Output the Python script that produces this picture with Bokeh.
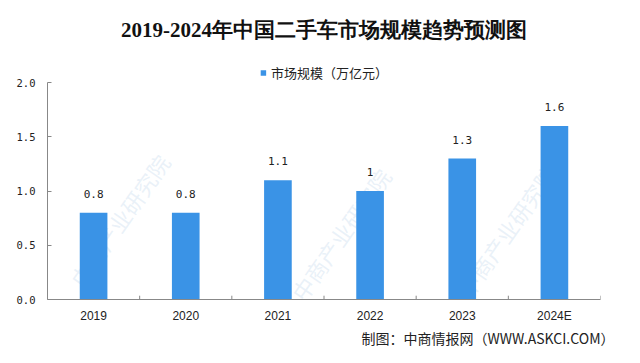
import math
from bokeh.plotting import figure
from bokeh.models import (ColumnDataSource, FixedTicker, PrintfTickFormatter, FactorRange,
                          Range1d, Title, Legend, LegendItem)
from bokeh.embed import file_html
from bokeh.resources import INLINE
from bokeh.core.properties import value

years = ["2019", "2020", "2021", "2022", "2023", "2024E"]
market = [0.8, 0.8, 1.1, 1.0, 1.3, 1.6]
labels = ["0.8", "0.8", "1.1", "1", "1.3", "1.6"]
y_ticks = [0.0, 0.5, 1.0, 1.5, 2.0]
title_text = "2019-2024年中国二手车市场规模趋势预测图"
legend_text = "市场规模（万亿元）"
footer_text = "制图：中商情报网（WWW.ASKCI.COM）"
watermark_text = "中商产业研究院"

BAR = "#3A93E6"
W, H = 624, 347
src = ColumnDataSource(dict(x=years, top=market, lab=labels))

p = figure(width=W, height=H, x_range=FactorRange(*years, range_padding=0),
           y_range=Range1d(0, 2.279), output_backend="svg", toolbar_location=None,
           title=None, min_border_left=47, min_border_right=24,
           min_border_top=52, min_border_bottom=42)
p.outline_line_color = None
p.grid.grid_line_color = None
p.background_fill_color = "white"
p.border_fill_color = "white"

# faint watermark
wm = ColumnDataSource(dict(x=[("2019", -0.2), ("2021", 0.2), ("2023", 0.0)],
                           y=[0.15, 0.02, 0.05]))
p.text(x="x", y="y", text=value(watermark_text), source=wm, angle=math.radians(55),
       text_font_size="22px", text_color="#c9dcee", text_alpha=0.4,
       text_font=value("Noto Sans CJK SC"), text_baseline="middle")

bars = p.vbar(x="x", top="top", width=0.3, source=src, fill_color=BAR, line_color=None)
p.text(x="x", y="top", text="lab", source=src, y_offset=-15,
       text_align="center", text_baseline="bottom", text_font_size="11px",
       text_color="#222222", text_font=value("DejaVu Sans Mono"))

# small separators between categories on the x axis
sep_x = [(y, -0.5) for y in years] + [(years[-1], 0.5)]
p.segment(x0=sep_x, y0=[0] * len(sep_x), x1=sep_x, y1=[0.035] * len(sep_x),
          line_color="#888888", line_width=1)

for ax in (p.xaxis[0], p.yaxis[0]):
    ax.axis_line_color = "#888888"
    ax.minor_tick_line_color = None
    ax.major_label_text_color = "#222222"

p.yaxis.ticker = FixedTicker(ticks=y_ticks)
p.yaxis.bounds = (0, 2.0)
p.yaxis.formatter = PrintfTickFormatter(format="%.1f")
p.yaxis.major_tick_line_color = "#888888"
p.yaxis.major_tick_in = 4
p.yaxis.major_tick_out = 0
p.yaxis.major_label_text_font = "DejaVu Sans Mono"
p.yaxis.major_label_text_font_size = "10.5px"
p.yaxis.major_label_standoff = 12
p.xaxis.major_tick_line_color = None
p.xaxis.major_tick_in = 0
p.xaxis.major_tick_out = 0
p.xaxis.axis_label_standoff = 0
p.xaxis.major_label_text_font = "Liberation Sans"
p.xaxis.major_label_text_font_size = "12px"
p.xaxis.major_label_standoff = 9

legend = Legend(items=[LegendItem(label=legend_text, renderers=[bars])],
                orientation="horizontal", location="top_center", border_line_color=None,
                background_fill_alpha=0, padding=2, margin=11, glyph_width=7, glyph_height=7,
                label_standoff=5, label_text_font_size="13px", label_height=14,
                label_text_font="Noto Sans CJK SC", label_text_color="#222222")
p.add_layout(legend)
p.add_layout(Title(text=title_text, align="center", text_font_size="21px",
                   text_font="Liberation Serif", text_font_style="bold",
                   text_color="#111111", standoff=22), "above")
p.add_layout(Title(text=footer_text, align="left", offset=314, text_font_size="14px",
                   text_font="Noto Sans CJK SC", text_font_style="normal",
                   text_color="#222222", standoff=0), "below")

open("out.html", "w").write(file_html(p, INLINE))
